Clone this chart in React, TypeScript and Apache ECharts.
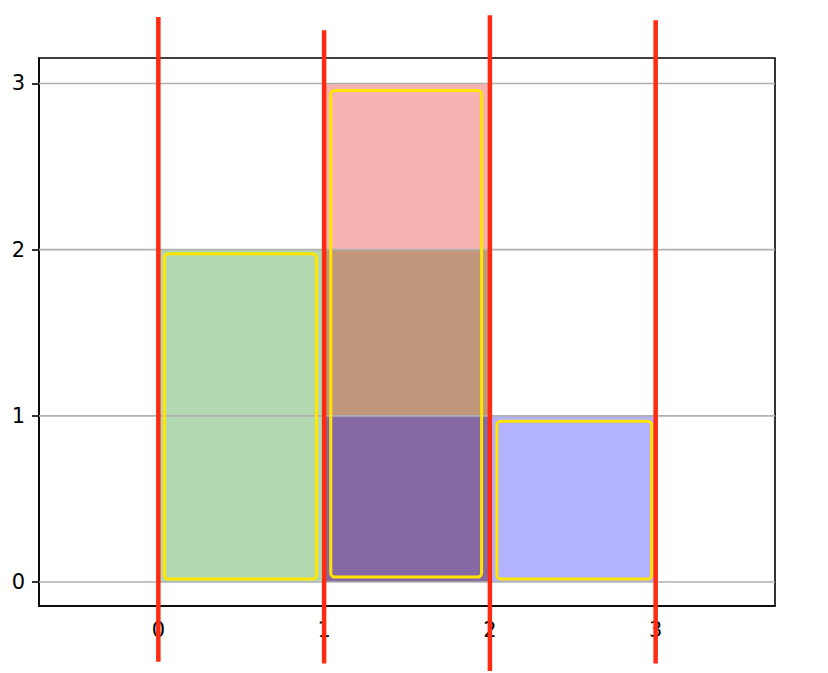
import React, { useEffect, useRef } from "react";
import * as echarts from "echarts";

const xTicks = [0, 1, 2, 3];
const yTicks = [0, 1, 2, 3];
// histogram bins: [left, right, count]
const greenBins = [
  [0, 1, 2],
  [1, 2, 2],
];
const redBins = [[1, 2, 3]];
const blueBins = [
  [1, 2, 1],
  [2, 3, 1],
];
// yellow outline boxes: [x0, x1, y0, y1]
const boxes = [
  [0.037, 0.954, 0.018, 1.975],
  [1.04, 1.95, 0.03, 2.958],
  [2.042, 2.976, 0.018, 0.968],
];
// red vertical lines: [x, yBottom, yTop]
const vlines = [
  [0, -0.48, 3.4],
  [1, -0.49, 3.32],
  [2, -0.535, 3.41],
  [3, -0.49, 3.38],
];

const X_MIN = -0.72;
const X_MAX = 3.72;
const Y_MIN = -0.144;
const Y_MAX = 3.153;

function barSeries(name: string, data: number[][], fill: string, z: number) {
  return {
    name,
    type: "custom",
    z,
    data,
    encode: { x: [0, 1], y: 2 },
    renderItem: (params: any, api: any) => {
      const a = api.coord([api.value(0), 0]);
      const b = api.coord([api.value(1), api.value(2)]);
      return {
        type: "rect",
        shape: { x: a[0], y: b[1], width: b[0] - a[0], height: a[1] - b[1] },
        style: { fill },
      };
    },
  };
}

export default function App() {
  const ref = useRef<HTMLDivElement>(null);
  useEffect(() => {
    document.body.style.margin = "0";
    const chart = echarts.init(ref.current!, null, { renderer: "svg" });
    const axisFont = { fontFamily: "DejaVu Sans", fontSize: 21, color: "#000" };
    chart.setOption({
      animation: false,
      backgroundColor: "#fff",
      grid: {
        left: 39,
        top: 58,
        width: 736,
        height: 548,
        show: true,
        borderColor: "#000",
        borderWidth: 1.6,
        backgroundColor: "transparent",
        containLabel: false,
      },
      xAxis: {
        type: "value",
        min: X_MIN,
        max: X_MAX,
        axisLine: { show: true, onZero: false, lineStyle: { color: "#000", width: 1.6 } },
        axisTick: {
          show: true,
          inside: false,
          length: 7,
          customValues: xTicks,
          lineStyle: { color: "#000", width: 1.6 },
        },
        axisLabel: { ...axisFont, margin: 13, customValues: xTicks, formatter: (v: number) => String(v) },
        splitLine: { show: false },
      },
      yAxis: {
        type: "value",
        min: Y_MIN,
        max: Y_MAX,
        axisLine: { show: true, onZero: false, lineStyle: { color: "#000", width: 1.6 } },
        axisTick: {
          show: true,
          inside: false,
          length: 7,
          customValues: yTicks,
          lineStyle: { color: "#000", width: 1.6 },
        },
        axisLabel: { ...axisFont, margin: 14, customValues: yTicks, formatter: (v: number) => String(v) },
        splitLine: { show: false },
      },
      series: [
        barSeries("green", greenBins, "rgba(0,128,0,0.3)", 2),
        barSeries("red", redBins, "rgba(230,0,0,0.3)", 2),
        barSeries("blue", blueBins, "rgba(0,0,255,0.3)", 2),
        {
          name: "grid",
          type: "custom",
          z: 3,
          data: yTicks.map((v) => [v]),
          renderItem: (params: any, api: any) => {
            const y = api.value(0);
            const a = api.coord([X_MIN, y]);
            const b = api.coord([X_MAX, y]);
            return {
              type: "line",
              shape: { x1: a[0], y1: a[1], x2: b[0], y2: b[1] },
              style: { stroke: "#b0b0b0", lineWidth: 1.6 },
            };
          },
        },
        {
          name: "boxes",
          type: "custom",
          z: 4,
          data: boxes,
          renderItem: (params: any, api: any) => {
            const a = api.coord([api.value(0), api.value(2)]);
            const b = api.coord([api.value(1), api.value(3)]);
            return {
              type: "rect",
              shape: { x: a[0], y: b[1], width: b[0] - a[0], height: a[1] - b[1], r: 4 },
              style: { fill: "none", stroke: "#ffe500", lineWidth: 3 },
            };
          },
        },
        {
          name: "vlines",
          type: "custom",
          z: 5,
          clip: false,
          data: vlines,
          renderItem: (params: any, api: any) => {
            const a = api.coord([api.value(0), api.value(1)]);
            const b = api.coord([api.value(0), api.value(2)]);
            return {
              type: "line",
              shape: { x1: a[0], y1: a[1], x2: b[0], y2: b[1] },
              style: { stroke: "#ff2a12", lineWidth: 4.5, lineCap: "butt" },
            };
          },
        },
      ],
    });
    return () => chart.dispose();
  }, []);
  return <div ref={ref} style={{ width: 828, height: 673 }} />;
}
